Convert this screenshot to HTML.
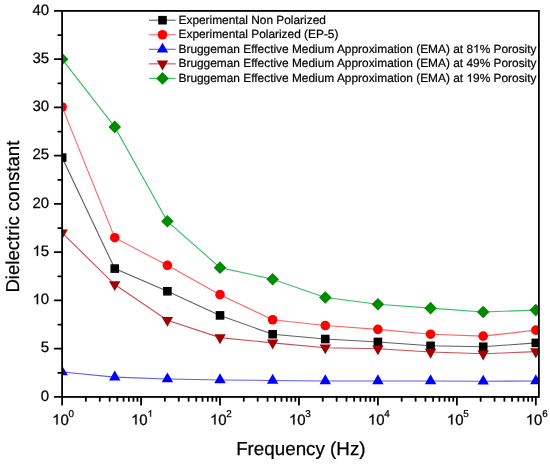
<!DOCTYPE html><html><head><meta charset="utf-8"><style>html,body{margin:0;padding:0;background:#fff;overflow:hidden}svg{display:block;will-change:transform}text{font-family:"Liberation Sans",sans-serif;fill:#000;text-rendering:geometricPrecision}</style></head><body>
<svg width="550" height="466" viewBox="0 0 550 466">
<rect width="550" height="466" fill="#fff"/>
<defs><clipPath id="c"><rect x="62.1" y="10.9" width="476.79999999999995" height="386.05"/></clipPath></defs>
<g clip-path="url(#c)">
<polyline points="62.12,157.61 114.75,268.59 167.39,291.27 220.02,315.40 272.65,334.22 325.29,339.04 377.92,341.94 430.55,345.80 483.19,346.76 535.82,342.90" fill="none" stroke="#606060" stroke-width="1.1"/>
<polyline points="62.12,106.94 114.75,237.71 167.39,265.31 220.02,294.65 272.65,319.74 325.29,325.53 377.92,329.39 430.55,334.22 483.19,336.15 535.82,330.17" fill="none" stroke="#ff6464" stroke-width="1.1"/>
<polyline points="62.12,372.05 114.75,377.17 167.39,379.00 220.02,379.96 272.65,380.45 325.29,380.93 377.92,380.93 430.55,380.93 483.19,381.32 535.82,380.93" fill="none" stroke="#5c5cff" stroke-width="1.1"/>
<polyline points="62.12,232.88 114.75,284.52 167.39,320.22 220.02,337.60 272.65,342.90 325.29,347.73 377.92,348.69 430.55,352.07 483.19,353.81 535.82,351.59" fill="none" stroke="#cc4c55" stroke-width="1.1"/>
<polyline points="62.12,59.17 114.75,126.92 167.39,221.30 220.02,267.63 272.65,279.21 325.29,297.54 377.92,304.30 430.55,308.16 483.19,312.02 535.82,310.09" fill="none" stroke="#33c066" stroke-width="1.1"/>
<rect x="57.82" y="153.31" width="8.60" height="8.60" fill="#000000"/>
<rect x="110.45" y="264.29" width="8.60" height="8.60" fill="#000000"/>
<rect x="163.09" y="286.97" width="8.60" height="8.60" fill="#000000"/>
<rect x="215.72" y="311.10" width="8.60" height="8.60" fill="#000000"/>
<rect x="268.35" y="329.92" width="8.60" height="8.60" fill="#000000"/>
<rect x="320.99" y="334.74" width="8.60" height="8.60" fill="#000000"/>
<rect x="373.62" y="337.64" width="8.60" height="8.60" fill="#000000"/>
<rect x="426.25" y="341.50" width="8.60" height="8.60" fill="#000000"/>
<rect x="478.89" y="342.46" width="8.60" height="8.60" fill="#000000"/>
<rect x="531.52" y="338.60" width="8.60" height="8.60" fill="#000000"/>
<circle cx="62.12" cy="106.94" r="4.8" fill="#ff0000"/>
<circle cx="114.75" cy="237.71" r="4.8" fill="#ff0000"/>
<circle cx="167.39" cy="265.31" r="4.8" fill="#ff0000"/>
<circle cx="220.02" cy="294.65" r="4.8" fill="#ff0000"/>
<circle cx="272.65" cy="319.74" r="4.8" fill="#ff0000"/>
<circle cx="325.29" cy="325.53" r="4.8" fill="#ff0000"/>
<circle cx="377.92" cy="329.39" r="4.8" fill="#ff0000"/>
<circle cx="430.55" cy="334.22" r="4.8" fill="#ff0000"/>
<circle cx="483.19" cy="336.15" r="4.8" fill="#ff0000"/>
<circle cx="535.82" cy="330.17" r="4.8" fill="#ff0000"/>
<path d="M62.12 365.45L67.82 375.35L56.42 375.35Z" fill="#0000ff"/>
<path d="M114.75 370.57L120.45 380.47L109.05 380.47Z" fill="#0000ff"/>
<path d="M167.39 372.40L173.09 382.30L161.69 382.30Z" fill="#0000ff"/>
<path d="M220.02 373.36L225.72 383.26L214.32 383.26Z" fill="#0000ff"/>
<path d="M272.65 373.85L278.35 383.75L266.95 383.75Z" fill="#0000ff"/>
<path d="M325.29 374.33L330.99 384.23L319.59 384.23Z" fill="#0000ff"/>
<path d="M377.92 374.33L383.62 384.23L372.22 384.23Z" fill="#0000ff"/>
<path d="M430.55 374.33L436.25 384.23L424.85 384.23Z" fill="#0000ff"/>
<path d="M483.19 374.72L488.89 384.62L477.49 384.62Z" fill="#0000ff"/>
<path d="M535.82 374.33L541.52 384.23L530.12 384.23Z" fill="#0000ff"/>
<path d="M62.12 239.48L67.82 229.58L56.42 229.58Z" fill="#a00000"/>
<path d="M114.75 291.12L120.45 281.22L109.05 281.22Z" fill="#a00000"/>
<path d="M167.39 326.82L173.09 316.92L161.69 316.92Z" fill="#a00000"/>
<path d="M220.02 344.20L225.72 334.30L214.32 334.30Z" fill="#a00000"/>
<path d="M272.65 349.50L278.35 339.60L266.95 339.60Z" fill="#a00000"/>
<path d="M325.29 354.33L330.99 344.43L319.59 344.43Z" fill="#a00000"/>
<path d="M377.92 355.30L383.62 345.39L372.22 345.39Z" fill="#a00000"/>
<path d="M430.55 358.67L436.25 348.77L424.85 348.77Z" fill="#a00000"/>
<path d="M483.19 360.41L488.89 350.51L477.49 350.51Z" fill="#a00000"/>
<path d="M535.82 358.19L541.52 348.29L530.12 348.29Z" fill="#a00000"/>
<path d="M62.12 52.87L68.42 59.17L62.12 65.47L55.82 59.17Z" fill="#008a00"/>
<path d="M114.75 120.62L121.05 126.92L114.75 133.22L108.45 126.92Z" fill="#008a00"/>
<path d="M167.39 215.00L173.69 221.30L167.39 227.60L161.09 221.30Z" fill="#008a00"/>
<path d="M220.02 261.33L226.32 267.63L220.02 273.93L213.72 267.63Z" fill="#008a00"/>
<path d="M272.65 272.91L278.95 279.21L272.65 285.51L266.35 279.21Z" fill="#008a00"/>
<path d="M325.29 291.24L331.59 297.54L325.29 303.84L318.99 297.54Z" fill="#008a00"/>
<path d="M377.92 298.00L384.22 304.30L377.92 310.60L371.62 304.30Z" fill="#008a00"/>
<path d="M430.55 301.86L436.85 308.16L430.55 314.46L424.25 308.16Z" fill="#008a00"/>
<path d="M483.19 305.72L489.49 312.02L483.19 318.32L476.89 312.02Z" fill="#008a00"/>
<path d="M535.82 303.79L542.12 310.09L535.82 316.39L529.52 310.09Z" fill="#008a00"/>
</g>
<rect x="62.1" y="10.9" width="476.79999999999995" height="386.05" fill="none" stroke="#000" stroke-width="1.8"/>
<path d="M54.70 396.95H62.10M58.20 372.82H62.10M54.70 348.69H62.10M58.20 324.57H62.10M54.70 300.44H62.10M58.20 276.31H62.10M54.70 252.19H62.10M58.20 228.06H62.10M54.70 203.93H62.10M58.20 179.80H62.10M54.70 155.67H62.10M58.20 131.55H62.10M54.70 107.42H62.10M58.20 83.29H62.10M54.70 59.17H62.10M58.20 35.04H62.10M54.70 10.91H62.10M62.12 396.95V404.65M85.89 396.95V400.90M99.79 396.95V400.90M109.65 396.95V400.90M117.30 396.95V400.90M123.56 396.95V400.90M128.84 396.95V400.90M133.42 396.95V400.90M137.46 396.95V400.90M141.07 396.95V404.65M164.84 396.95V400.90M178.74 396.95V400.90M188.60 396.95V400.90M196.25 396.95V400.90M202.51 396.95V400.90M207.79 396.95V400.90M212.37 396.95V400.90M216.41 396.95V400.90M220.02 396.95V404.65M243.79 396.95V400.90M257.69 396.95V400.90M267.55 396.95V400.90M275.20 396.95V400.90M281.46 396.95V400.90M286.74 396.95V400.90M291.32 396.95V400.90M295.36 396.95V400.90M298.97 396.95V404.65M322.74 396.95V400.90M336.64 396.95V400.90M346.50 396.95V400.90M354.15 396.95V400.90M360.41 396.95V400.90M365.69 396.95V400.90M370.27 396.95V400.90M374.31 396.95V400.90M377.92 396.95V404.65M401.69 396.95V400.90M415.59 396.95V400.90M425.45 396.95V400.90M433.10 396.95V400.90M439.36 396.95V400.90M444.64 396.95V400.90M449.22 396.95V400.90M453.26 396.95V400.90M456.87 396.95V404.65M480.64 396.95V400.90M494.54 396.95V400.90M504.40 396.95V400.90M512.05 396.95V400.90M518.31 396.95V400.90M523.59 396.95V400.90M528.17 396.95V400.90M532.21 396.95V400.90M535.82 396.95V404.65" stroke="#000" stroke-width="1.8" stroke-linecap="round" fill="none"/>
<text x="49.2" y="400.65" font-size="15" text-anchor="end" stroke="#000" stroke-width="0.25">0</text>
<text x="49.2" y="352.39" font-size="15" text-anchor="end" stroke="#000" stroke-width="0.25">5</text>
<text x="49.2" y="304.14" font-size="15" text-anchor="end" stroke="#000" stroke-width="0.25"><tspan fill="transparent" stroke="none">1</tspan>0</text>
<text x="49.2" y="255.88" font-size="15" text-anchor="end" stroke="#000" stroke-width="0.25"><tspan fill="transparent" stroke="none">1</tspan>5</text>
<text x="49.2" y="207.63" font-size="15" text-anchor="end" stroke="#000" stroke-width="0.25">20</text>
<text x="49.2" y="159.37" font-size="15" text-anchor="end" stroke="#000" stroke-width="0.25">25</text>
<text x="49.2" y="111.12" font-size="15" text-anchor="end" stroke="#000" stroke-width="0.25">30</text>
<text x="49.2" y="62.87" font-size="15" text-anchor="end" stroke="#000" stroke-width="0.25">35</text>
<text x="49.2" y="14.61" font-size="15" text-anchor="end" stroke="#000" stroke-width="0.25">40</text>
<text x="52.07" y="424.5" font-size="15" stroke="#000" stroke-width="0.25"><tspan fill="transparent" stroke="none">1</tspan>0<tspan dy="-7.7" dx="-0.3" font-size="9.9">0</tspan></text>
<text x="131.02" y="424.5" font-size="15" stroke="#000" stroke-width="0.25"><tspan fill="transparent" stroke="none">1</tspan>0<tspan dy="-7.7" dx="-0.3" font-size="9.9"><tspan fill="transparent" stroke="none">1</tspan></tspan></text>
<text x="209.97" y="424.5" font-size="15" stroke="#000" stroke-width="0.25"><tspan fill="transparent" stroke="none">1</tspan>0<tspan dy="-7.7" dx="-0.3" font-size="9.9">2</tspan></text>
<text x="288.92" y="424.5" font-size="15" stroke="#000" stroke-width="0.25"><tspan fill="transparent" stroke="none">1</tspan>0<tspan dy="-7.7" dx="-0.3" font-size="9.9">3</tspan></text>
<text x="367.87" y="424.5" font-size="15" stroke="#000" stroke-width="0.25"><tspan fill="transparent" stroke="none">1</tspan>0<tspan dy="-7.7" dx="-0.3" font-size="9.9">4</tspan></text>
<text x="446.82" y="424.5" font-size="15" stroke="#000" stroke-width="0.25"><tspan fill="transparent" stroke="none">1</tspan>0<tspan dy="-7.7" dx="-0.3" font-size="9.9">5</tspan></text>
<text x="525.77" y="424.5" font-size="15" stroke="#000" stroke-width="0.25"><tspan fill="transparent" stroke="none">1</tspan>0<tspan dy="-7.7" dx="-0.3" font-size="9.9">6</tspan></text>
<text x="300.85" y="455" font-size="18.8" text-anchor="middle" stroke="#000" stroke-width="0.25">Frequency (Hz)</text>
<text transform="translate(19.2,216.65) rotate(-90)" font-size="18.6" text-anchor="middle" stroke="#000" stroke-width="0.25">Dielectric constant</text>
<path d="M149 20.20H175.6" stroke="#606060" stroke-width="1.1"/>
<rect x="158.20" y="15.90" width="8.60" height="8.60" fill="#000000"/>
<text x="178.5" y="23.70" font-size="11.9" stroke="#000" stroke-width="0.2">Experimental Non Polarized</text>
<path d="M149 34.75H175.6" stroke="#ff6464" stroke-width="1.1"/>
<circle cx="162.50" cy="34.75" r="4.8" fill="#ff0000"/>
<text x="178.5" y="38.25" font-size="11.9" stroke="#000" stroke-width="0.2">Experimental Polarized (EP-5)</text>
<path d="M149 49.30H175.6" stroke="#5c5cff" stroke-width="1.1"/>
<path d="M162.50 42.70L168.20 52.60L156.80 52.60Z" fill="#0000ff"/>
<text x="178.5" y="52.80" font-size="11.9" stroke="#000" stroke-width="0.2">Bruggeman Effective Medium Approximation (EMA) at 8<tspan fill="transparent" stroke="none">1</tspan>% Porosity</text>
<path d="M149 63.85H175.6" stroke="#cc4c55" stroke-width="1.1"/>
<path d="M162.50 70.45L168.20 60.55L156.80 60.55Z" fill="#a00000"/>
<text x="178.5" y="67.35" font-size="11.9" stroke="#000" stroke-width="0.2">Bruggeman Effective Medium Approximation (EMA) at 49% Porosity</text>
<path d="M149 78.40H175.6" stroke="#33c066" stroke-width="1.1"/>
<path d="M162.50 72.10L168.80 78.40L162.50 84.70L156.20 78.40Z" fill="#008a00"/>
<text x="178.5" y="81.90" font-size="11.9" stroke="#000" stroke-width="0.2">Bruggeman Effective Medium Approximation (EMA) at <tspan fill="transparent" stroke="none">1</tspan>9% Porosity</text>
<path transform="translate(32.51,304.14) scale(0.007324,-0.007324)" stroke="#000" stroke-width="34.1" d="M763 0H583V1098Q518 1038 412.5 979Q307 920 223 890V1057Q374 1125 487 1221Q600 1318 647 1409H763Z"/>
<path transform="translate(32.51,255.88) scale(0.007324,-0.007324)" stroke="#000" stroke-width="34.1" d="M763 0H583V1098Q518 1038 412.5 979Q307 920 223 890V1057Q374 1125 487 1221Q600 1318 647 1409H763Z"/>
<path transform="translate(52.07,424.50) scale(0.007324,-0.007324)" stroke="#000" stroke-width="34.1" d="M763 0H583V1098Q518 1038 412.5 979Q307 920 223 890V1057Q374 1125 487 1221Q600 1318 647 1409H763Z"/>
<path transform="translate(131.02,424.50) scale(0.007324,-0.007324)" stroke="#000" stroke-width="34.1" d="M763 0H583V1098Q518 1038 412.5 979Q307 920 223 890V1057Q374 1125 487 1221Q600 1318 647 1409H763Z"/>
<path transform="translate(147.41,416.80) scale(0.004834,-0.004834)" stroke="#000" stroke-width="51.7" d="M763 0H583V1098Q518 1038 412.5 979Q307 920 223 890V1057Q374 1125 487 1221Q600 1318 647 1409H763Z"/>
<path transform="translate(209.97,424.50) scale(0.007324,-0.007324)" stroke="#000" stroke-width="34.1" d="M763 0H583V1098Q518 1038 412.5 979Q307 920 223 890V1057Q374 1125 487 1221Q600 1318 647 1409H763Z"/>
<path transform="translate(288.92,424.50) scale(0.007324,-0.007324)" stroke="#000" stroke-width="34.1" d="M763 0H583V1098Q518 1038 412.5 979Q307 920 223 890V1057Q374 1125 487 1221Q600 1318 647 1409H763Z"/>
<path transform="translate(367.87,424.50) scale(0.007324,-0.007324)" stroke="#000" stroke-width="34.1" d="M763 0H583V1098Q518 1038 412.5 979Q307 920 223 890V1057Q374 1125 487 1221Q600 1318 647 1409H763Z"/>
<path transform="translate(446.82,424.50) scale(0.007324,-0.007324)" stroke="#000" stroke-width="34.1" d="M763 0H583V1098Q518 1038 412.5 979Q307 920 223 890V1057Q374 1125 487 1221Q600 1318 647 1409H763Z"/>
<path transform="translate(525.77,424.50) scale(0.007324,-0.007324)" stroke="#000" stroke-width="34.1" d="M763 0H583V1098Q518 1038 412.5 979Q307 920 223 890V1057Q374 1125 487 1221Q600 1318 647 1409H763Z"/>
<path transform="translate(473.05,52.80) scale(0.005811,-0.005811)" stroke="#000" stroke-width="34.4" d="M763 0H583V1098Q518 1038 412.5 979Q307 920 223 890V1057Q374 1125 487 1221Q600 1318 647 1409H763Z"/>
<path transform="translate(466.44,81.90) scale(0.005811,-0.005811)" stroke="#000" stroke-width="34.4" d="M763 0H583V1098Q518 1038 412.5 979Q307 920 223 890V1057Q374 1125 487 1221Q600 1318 647 1409H763Z"/></svg></body></html>
